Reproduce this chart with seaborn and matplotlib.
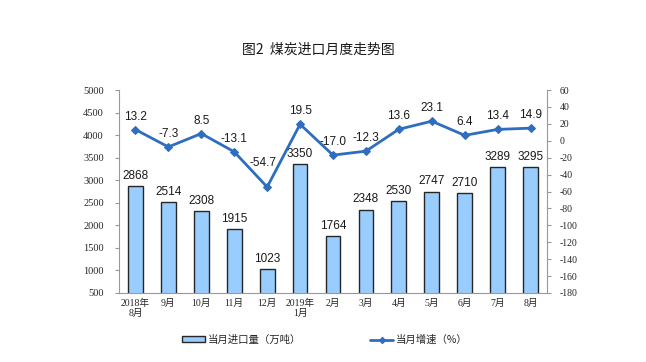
import matplotlib
matplotlib.use("Agg")
import matplotlib.pyplot as plt
import seaborn as sns
import numpy as np
import pandas as pd
from matplotlib.lines import Line2D
from matplotlib.patches import Patch

categories = ["2018年\n8月", "9月", "10月", "11月", "12月", "2019年\n1月", "2月",
              "3月", "4月", "5月", "6月", "7月", "8月"]
imports = [2868, 2514, 2308, 1915, 1023, 3350, 1764, 2348, 2530, 2747, 2710, 3289, 3295]
growth = [13.2, -7.3, 8.5, -13.1, -54.7, 19.5, -17.0, -12.3, 13.6, 23.1, 6.4, 13.4, 14.9]

sns.set_style("white")
plt.rcParams['font.family'] = ['Liberation Sans', 'Noto Sans CJK SC', 'DejaVu Sans']
plt.rcParams['axes.unicode_minus'] = False

df = pd.DataFrame({"month": categories, "imports": imports, "growth": growth,
                   "pos": range(len(categories))})

fig = plt.figure(figsize=(6.46, 3.62), dpi=100)
ax = fig.add_axes([119/646, 1-293/362, (547-119)/646, (293-90)/362])

bar_color = "#99CCFF"
line_color = "#2E6DBF"
sns.barplot(data=df, x="month", y="imports", color=bar_color, edgecolor="#262626",
            linewidth=1.0, width=0.45, saturation=1, ax=ax)
ax.set_ylim(500, 5000)
ax.set_yticks(np.arange(500, 5001, 500))
ax.set_xlim(-0.5, len(categories) - 0.5)
ax.set_xlabel("")
ax.set_ylabel("")
for b, v in zip(ax.patches, imports):
    ax.annotate(f"{v}", (b.get_x() + b.get_width()/2, v), xytext=(0, 3),
                textcoords="offset points", ha="center", va="bottom",
                fontsize=8.5, color="#1a1a1a")

ax2 = ax.twinx()
sns.lineplot(data=df, x="pos", y="growth", color=line_color, linewidth=2,
             marker="D", markersize=4, markeredgecolor=line_color, ax=ax2)
ax2.set_ylim(-180, 60)
ax2.set_yticks(np.arange(-180, 61, 20))
ax2.set_xlim(-0.5, len(categories) - 0.5)
ax2.set_ylabel("")
ax2.set_xlabel("")
for i, g in enumerate(growth):
    off = (-3, 13) if g < -40 else (0, 5)
    ax2.annotate(f"{g:.1f}", (i, g), xytext=off, textcoords="offset points",
                 ha="center", va="bottom", fontsize=8.5, color="#1a1a1a")

tick_font = ['Liberation Serif', 'Noto Sans CJK SC']
ax.set_xticks(range(len(categories)))
ax.set_xticklabels(categories, family=tick_font, fontsize=7, linespacing=1.1)
ax.tick_params(axis="x", length=0, pad=4)
ax.set_xticks(np.arange(-0.5, len(categories), 1), minor=True)
ax.tick_params(axis="x", which="minor", length=3, direction="in", color="#999999")
for lab in ax.get_yticklabels():
    lab.set_family(tick_font)
    lab.set_fontsize(7.5)
for lab in ax2.get_yticklabels():
    lab.set_family(tick_font)
    lab.set_fontsize(7)
ax.tick_params(axis="y", length=3, color="#999999", pad=8)
ax2.tick_params(axis="y", length=3, color="#999999", pad=6)

for a in (ax, ax2):
    a.spines["top"].set_visible(False)
    a.spines["left"].set_color("#999999")
    a.spines["right"].set_color("#999999")
    a.spines["bottom"].set_color("#999999")
ax.spines["right"].set_visible(False)
ax2.spines["left"].set_visible(False)
ax2.spines["bottom"].set_visible(False)

fig.text(318/646, 1-50/362, "图2  煤炭进口月度走势图", ha="center", va="center",
         fontsize=10, family=['Noto Sans CJK SC', 'DejaVu Sans'], color="#1a1a1a")

handles = [Patch(facecolor=bar_color, edgecolor="#262626", linewidth=1.0, label="当月进口量（万吨）"),
           Line2D([0], [0], color=line_color, linewidth=2, marker="D", markersize=3,
                  label="当月增速（%）")]
fig.legend(handles=handles, loc="center", bbox_to_anchor=(325/646, 1-340/362), ncol=2,
           frameon=False, columnspacing=6.6, handlelength=2.2,
           handleheight=0.5, handletextpad=0.3, borderaxespad=0,
           prop={'family': ['Noto Sans CJK SC', 'DejaVu Sans'], 'size': 7.5})

fig.savefig("out.png", dpi=100)
